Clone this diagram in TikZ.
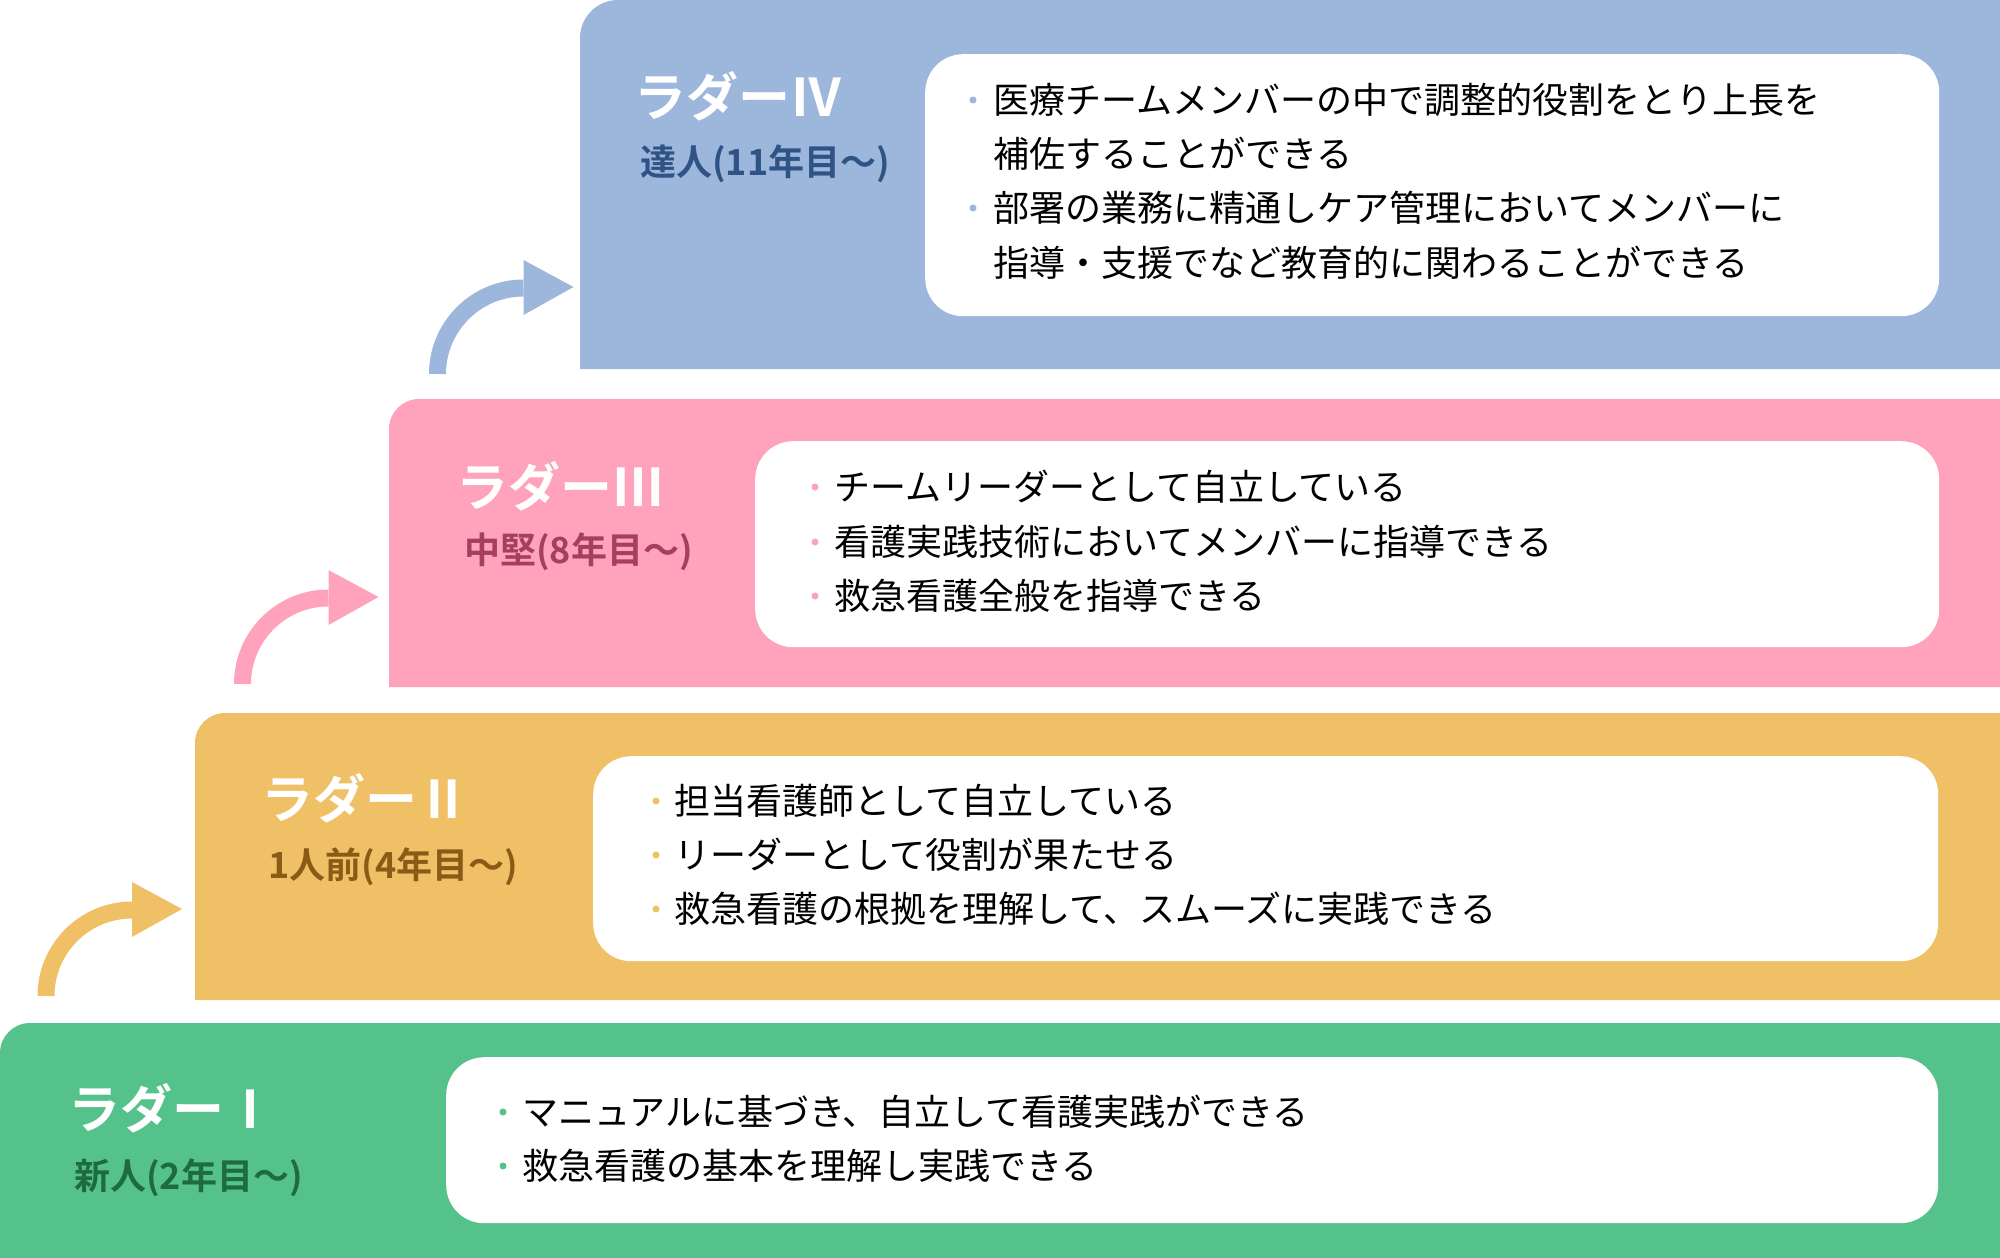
\documentclass[tikz,border=0pt]{standalone}
\usepackage{fontspec}
\setmainfont{Noto Sans CJK JP}[BoldFont=* Bold]
\definecolor{bandIV}{HTML}{9DB6DB}
\definecolor{bandIII}{HTML}{FEA3BB}
\definecolor{bandII}{HTML}{EFC066}
\definecolor{bandI}{HTML}{55C28C}
\definecolor{subIV}{HTML}{2F5385}
\definecolor{subIII}{HTML}{A53E60}
\definecolor{subII}{HTML}{8A5B16}
\definecolor{subI}{HTML}{1E6B3F}
\tikzset{
  titletext/.style={anchor=west,inner sep=0pt,text=white,font=\fontsize{52}{52}\selectfont\bfseries},
  subtext/.style={anchor=west,inner sep=0pt,font=\fontsize{36}{36}\selectfont\bfseries},
  itemtext/.style={anchor=west,inner sep=0pt,text=black,font=\fontsize{36}{36}\selectfont},
  whitebox/.style={fill=white,rounded corners=38pt,inner sep=0pt,anchor=north west},
}
\newcommand\stepArrow[3]{%
  \coordinate (#3) at (#1,#2);
  \draw[line width=17pt,color=#3col] ([xshift=-86pt]#3) arc[start angle=180,end angle=270,radius=86];
  \fill[#3col] ([yshift=114pt]#3) -- ([xshift=50pt,yshift=87pt]#3) -- ([yshift=59pt]#3) -- cycle;}
\colorlet{arrIVcol}{bandIV}
\colorlet{arrIIIcol}{bandIII}
\colorlet{arrIIcol}{bandII}
\begin{document}
\begin{tikzpicture}[x=1pt,y=-1pt]
\useasboundingbox (0,0) rectangle (2000,1258);
% bands
\fill[bandIV] (580,369) {[rounded corners=38pt] -- (580,0)} -- (2010,0) -- (2010,369) -- cycle;
\fill[bandIII] (389,687) {[rounded corners=30pt] -- (389,399)} -- (2010,399) -- (2010,687) -- cycle;
\fill[bandII] (195,1000) {[rounded corners=30pt] -- (195,713)} -- (2010,713) -- (2010,1000) -- cycle;
\fill[bandI] (0,1270) {[rounded corners=30pt] -- (0,1023)} -- (2010,1023) -- (2010,1270) -- cycle;
% arrows
\stepArrow{523.5}{374}{arrIV}
\stepArrow{328.5}{684}{arrIII}
\stepArrow{132}{996}{arrII}
% white boxes
\node[whitebox,minimum width=1014pt,minimum height=262pt] (wIV) at (925,54) {};
\node[whitebox,minimum width=1184pt,minimum height=206pt] (wIII) at (755,441) {};
\node[whitebox,minimum width=1345pt,minimum height=205pt] (wII) at (593,756) {};
\node[whitebox,minimum width=1492pt,minimum height=166pt] (wI) at (446,1057) {};
% titles
\node[titletext] (tIV) at (634,96) {ラダーⅣ};
\node[subtext,text=subIV] (sIV) at (640,164) {達人(11年目〜)};
\node[titletext] (tIII) at (456,486) {ラダーⅢ};
\node[subtext,text=subIII] (sIII) at (464,552) {中堅(8年目〜)};
\node[titletext] (tII) at (261,798) {ラダーⅡ};
\node[subtext,text=subII] (sII) at (268,867) {1人前(4年目〜)};
\node[titletext] (tI) at (68,1108) {ラダーⅠ};
\node[subtext,text=subI] (sI) at (74,1178) {新人(2年目〜)};
% items IV
\fill[bandIV] (973,100) circle[radius=3.5];
\node[itemtext] (iIVa) at (993,100) {医療チームメンバーの中で調整的役割をとり上長を};
\node[itemtext] (iIVb) at (993,154) {補佐することができる};
\fill[bandIV] (973,208) circle[radius=3.5];
\node[itemtext] (iIVc) at (993,208) {部署の業務に精通しケア管理においてメンバーに};
\node[itemtext] (iIVd) at (993,263) {指導・支援でなど教育的に関わることができる};
% items III
\fill[bandIII] (815,487) circle[radius=3.5];
\node[itemtext] (iIIIa) at (834,487) {チームリーダーとして自立している};
\fill[bandIII] (815,542) circle[radius=3.5];
\node[itemtext] (iIIIb) at (834,542) {看護実践技術においてメンバーに指導できる};
\fill[bandIII] (815,596) circle[radius=3.5];
\node[itemtext] (iIIIc) at (834,596) {救急看護全般を指導できる};
% items II
\fill[bandII] (656,801) circle[radius=3.5];
\node[itemtext] (iIIa) at (674,801) {担当看護師として自立している};
\fill[bandII] (656,855) circle[radius=3.5];
\node[itemtext] (iIIb) at (674,855) {リーダーとして役割が果たせる};
\fill[bandII] (656,909) circle[radius=3.5];
\node[itemtext] (iIIc) at (674,909) {救急看護の根拠を理解して、スムーズに実践できる};
% items I
\fill[bandI] (503,1112) circle[radius=3.5];
\node[itemtext] (iIa) at (522,1112) {マニュアルに基づき、自立して看護実践ができる};
\fill[bandI] (503,1166) circle[radius=3.5];
\node[itemtext] (iIb) at (522,1166) {救急看護の基本を理解し実践できる};
\end{tikzpicture}
\end{document}
